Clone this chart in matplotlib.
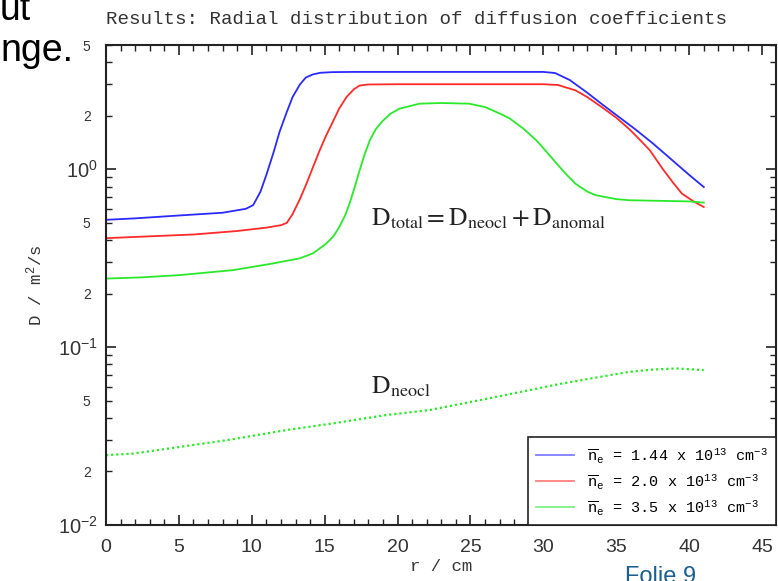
import numpy as np
import matplotlib
matplotlib.use("Agg")
import matplotlib.pyplot as plt
from matplotlib.ticker import LogLocator, FuncFormatter, MultipleLocator, LogFormatterSciNotation
from matplotlib.font_manager import FontProperties

plt.rcParams['font.family'] = ['Liberation Sans', 'DejaVu Sans']
plt.rcParams['mathtext.fontset'] = 'custom'
plt.rcParams['mathtext.rm'] = 'Liberation Mono'
plt.rcParams['mathtext.it'] = 'Liberation Mono'
plt.rcParams['mathtext.tt'] = 'Liberation Mono'

# D_total curves, n_e = 1.44e13
r_blue = [0, 2, 5, 8, 9.6, 10.1, 10.6, 11.0, 11.5, 11.9, 12.4, 12.8, 13.3, 13.7, 14.2, 14.7,
          15.5, 17, 20, 25, 30, 30.8, 31.8, 33.0, 34.0, 35.0, 36.3, 37.5, 38.6, 40.0, 41.0]
d_blue = [0.52, 0.53, 0.55, 0.57, 0.60, 0.63, 0.75, 0.93, 1.25, 1.62, 2.1, 2.55, 3.0, 3.28, 3.42, 3.49,
          3.52, 3.53, 3.53, 3.53, 3.53, 3.48, 3.18, 2.7, 2.33, 2.02, 1.68, 1.40, 1.17, 0.93, 0.795]

# n_e = 2.0e13
r_red = [0, 3, 6, 9, 11, 12.0, 12.4, 12.8, 13.3, 13.75, 14.2, 14.66, 15.1, 15.6, 16.0, 16.5, 17.0,
         17.4, 18.0, 20, 25, 30, 31.0, 32.2, 33.0, 34.0, 35.0, 35.9, 36.6, 37.3, 38.2, 38.9, 39.5,
         40.3, 41.0]
d_red = [0.41, 0.42, 0.43, 0.45, 0.47, 0.485, 0.50, 0.56, 0.68, 0.83, 1.03, 1.28, 1.55, 1.88, 2.2,
         2.55, 2.82, 2.96, 3.0, 3.01, 3.01, 3.01, 2.98, 2.78, 2.55, 2.24, 1.95, 1.68, 1.47, 1.28, 1.0,
         0.84, 0.73, 0.66, 0.614]

# n_e = 3.5e13
r_green = [0, 2.5, 5, 8.7, 11.4, 13.3, 14.2, 15.1, 15.6, 16.0, 16.4, 16.7, 17.05, 17.4, 17.75, 18.1,
           18.5, 19.0, 19.5, 20.1, 21.5, 23, 24.9, 26.0, 27.0, 27.7, 28.6, 29.5, 30.2, 30.9, 31.5,
           32.2, 33.0, 33.6, 35.0, 35.9, 38, 40, 41]
d_green = [0.243, 0.247, 0.254, 0.271, 0.295, 0.316, 0.337, 0.382, 0.42, 0.474, 0.55, 0.64, 0.79,
           0.99, 1.22, 1.46, 1.68, 1.88, 2.05, 2.19, 2.34, 2.36, 2.34, 2.24, 2.06, 1.93, 1.70, 1.46,
           1.26, 1.08, 0.95, 0.83, 0.75, 0.715, 0.68, 0.67, 0.665, 0.66, 0.65]

# D_neocl for n_e = 3.5e13
r_neo = [0, 1.85, 5.1, 8.3, 12.4, 15.6, 19.2, 22.2, 26.8, 31.3, 35.9, 37.5, 39.1, 41]
d_neo = [0.0247, 0.0252, 0.0275, 0.030, 0.0342, 0.0373, 0.0415, 0.0443, 0.0526, 0.0625, 0.0727,
         0.0748, 0.0759, 0.0743]

labels = [r'$\overline{\mathrm{n}}_{\mathrm{e}}$ = 1.44 x 10$^{13}$ cm$^{-3}$',
          r'$\overline{\mathrm{n}}_{\mathrm{e}}$ = 2.0 x 10$^{13}$ cm$^{-3}$',
          r'$\overline{\mathrm{n}}_{\mathrm{e}}$ = 3.5 x 10$^{13}$ cm$^{-3}$']
colors = ['#2a2aff', '#ff2a2a', '#2ae82a']

mono = 'Liberation Mono'

fig = plt.figure(figsize=(7.78, 5.81), dpi=100)
ax = fig.add_axes([0.1362, 0.0964, 0.8612, 0.8261])

ax.plot(r_blue, d_blue, color=colors[0], lw=1.3, label=labels[0])
ax.plot(r_red, d_red, color=colors[1], lw=1.3, label=labels[1])
ax.plot(r_green, d_green, color=colors[2], lw=1.3, label=labels[2])
ax.plot(r_neo, d_neo, color=colors[2], lw=1.6, ls=(0, (1, 1.3)))

ax.set_yscale('log')
ax.set_xlim(0, 45.95)
ax.set_ylim(0.01, 5)

ax.xaxis.set_major_locator(MultipleLocator(5))
ax.xaxis.set_minor_locator(MultipleLocator(1))
ax.yaxis.set_major_locator(LogLocator(base=10))
ax.yaxis.set_minor_locator(LogLocator(base=10, subs=np.arange(2, 10)))
ax.yaxis.set_major_formatter(LogFormatterSciNotation())


def minor_fmt(v, pos):
    m = v / 10 ** np.floor(np.log10(v) + 1e-9)
    if abs(m - 2) < 1e-6 or abs(m - 5) < 1e-6:
        return '%d' % round(m)
    return ''


ax.yaxis.set_minor_formatter(FuncFormatter(minor_fmt))

ax.tick_params(which='both', direction='in', top=True, right=True, color='#222222')
ax.tick_params(which='major', length=7, width=1.2)
ax.tick_params(which='minor', length=4, width=1.0)
ax.tick_params(axis='x', which='major', labelsize=14, pad=10)
ax.tick_params(axis='y', which='major', labelsize=14.5, pad=6)
ax.tick_params(axis='y', which='minor', labelsize=10, pad=11)
for t in ax.get_xticklabels() + ax.get_yticklabels() + ax.get_yticklabels(minor=True):
    t.set_color('#333333')
for s in ax.spines.values():
    s.set_linewidth(1.5)
    s.set_color('#222222')

ax.set_title('Results: Radial distribution of diffusion coefficients', family=mono,
             fontsize=13.8, color='#333333', pad=15, x=0.464)
ax.set_xlabel('r / cm', family=mono, fontsize=12.5, color='#333333', labelpad=2)
ax.set_ylabel(r'D / m$^{2}$/s', family=mono, fontsize=12.5, color='#333333', labelpad=9)

ax.text(18.2, 0.484, r'$\mathrm{D}_{\mathrm{total}} = \mathrm{D}_{\mathrm{neocl}} + \mathrm{D}_{\mathrm{anomal}}$',
        fontsize=18.5, math_fontfamily='stix', color='#222222', ha='left', va='baseline')
ax.text(18.2, 0.0552, r'$\mathrm{D}_{\mathrm{neocl}}$',
        fontsize=18.5, math_fontfamily='stix', color='#222222', ha='left', va='baseline')

leg = ax.legend(loc='lower right', borderaxespad=0, fancybox=False, framealpha=1,
                prop=FontProperties(family=mono, size=11), handlelength=2.5,
                labelspacing=0.45, borderpad=0.55, handletextpad=0.8)
leg.get_frame().set_edgecolor('#222222')
leg.get_frame().set_linewidth(1.2)
for line in leg.get_lines():
    line.set_alpha(0.6)

# slide fragments around the chart
fig.text(0.0, 0.966, 'ut', fontsize=27, family='Liberation Sans', ha='left', va='baseline')
fig.text(0.0, 0.895, 'nge.', fontsize=27, family='Liberation Sans', ha='left', va='baseline')
fig.text(0.803, -0.004, 'Folie 9', fontsize=17, family='Liberation Sans', color='#1a5f8e',
         ha='left', va='baseline')

fig.savefig('out.png', dpi=100)
